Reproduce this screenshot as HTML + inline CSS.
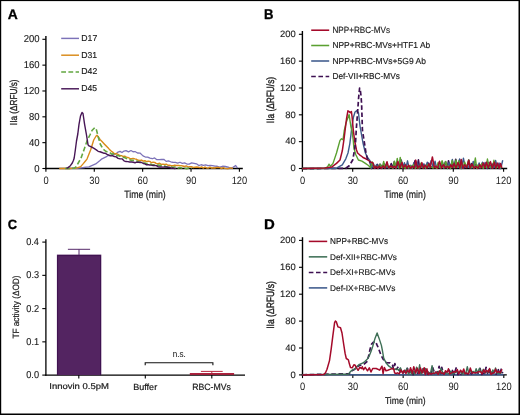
<!DOCTYPE html>
<html><head><meta charset="utf-8"><style>
html,body{margin:0;padding:0;background:#fff;}
body{width:520px;height:415px;overflow:hidden;}
svg{display:block;will-change:transform;}
text{font-family:"Liberation Sans", sans-serif;text-rendering:geometricPrecision;}
</style></head><body>
<svg width="520" height="415" viewBox="0 0 520 415">
<rect x="0" y="0" width="520" height="415" fill="#fff"/>
<text x="7.85" y="18.70" font-size="13.91" font-weight="bold" fill="#000" stroke="#000" stroke-width="0.3" textLength="10.02" lengthAdjust="spacingAndGlyphs">A</text>
<line x1="45.90" y1="36.00" x2="45.90" y2="169.20" stroke="#000" stroke-width="1.4"/>
<line x1="45.20" y1="168.50" x2="242.80" y2="168.50" stroke="#000" stroke-width="1.4"/>
<line x1="42.40" y1="168.50" x2="45.90" y2="168.50" stroke="#000" stroke-width="1.1"/>
<line x1="42.40" y1="142.66" x2="45.90" y2="142.66" stroke="#000" stroke-width="1.1"/>
<line x1="42.40" y1="116.82" x2="45.90" y2="116.82" stroke="#000" stroke-width="1.1"/>
<line x1="42.40" y1="90.98" x2="45.90" y2="90.98" stroke="#000" stroke-width="1.1"/>
<line x1="42.40" y1="65.14" x2="45.90" y2="65.14" stroke="#000" stroke-width="1.1"/>
<line x1="42.40" y1="39.30" x2="45.90" y2="39.30" stroke="#000" stroke-width="1.1"/>
<line x1="45.90" y1="168.50" x2="45.90" y2="171.70" stroke="#000" stroke-width="1.1"/>
<line x1="94.28" y1="168.50" x2="94.28" y2="171.70" stroke="#000" stroke-width="1.1"/>
<line x1="142.65" y1="168.50" x2="142.65" y2="171.70" stroke="#000" stroke-width="1.1"/>
<line x1="191.03" y1="168.50" x2="191.03" y2="171.70" stroke="#000" stroke-width="1.1"/>
<line x1="239.40" y1="168.50" x2="239.40" y2="171.70" stroke="#000" stroke-width="1.1"/>
<text x="34.26" y="171.50" font-size="10.00" font-weight="normal" fill="#1a1a1a" stroke="#1a1a1a" stroke-width="0.12" textLength="5.28" lengthAdjust="spacingAndGlyphs">0</text>
<text x="28.99" y="145.66" font-size="10.00" font-weight="normal" fill="#1a1a1a" stroke="#1a1a1a" stroke-width="0.12" textLength="10.57" lengthAdjust="spacingAndGlyphs">40</text>
<text x="28.99" y="119.82" font-size="10.00" font-weight="normal" fill="#1a1a1a" stroke="#1a1a1a" stroke-width="0.12" textLength="10.57" lengthAdjust="spacingAndGlyphs">80</text>
<text x="23.72" y="93.98" font-size="10.00" font-weight="normal" fill="#1a1a1a" stroke="#1a1a1a" stroke-width="0.12" textLength="15.85" lengthAdjust="spacingAndGlyphs">120</text>
<text x="23.72" y="68.14" font-size="10.00" font-weight="normal" fill="#1a1a1a" stroke="#1a1a1a" stroke-width="0.12" textLength="15.85" lengthAdjust="spacingAndGlyphs">160</text>
<text x="23.72" y="42.30" font-size="10.00" font-weight="normal" fill="#1a1a1a" stroke="#1a1a1a" stroke-width="0.12" textLength="15.85" lengthAdjust="spacingAndGlyphs">200</text>
<text x="43.49" y="183.62" font-size="10.60" font-weight="normal" fill="#1a1a1a" textLength="5.19" lengthAdjust="spacingAndGlyphs">0</text>
<text x="89.27" y="183.62" font-size="10.60" font-weight="normal" fill="#1a1a1a" textLength="10.38" lengthAdjust="spacingAndGlyphs">30</text>
<text x="137.60" y="183.62" font-size="10.60" font-weight="normal" fill="#1a1a1a" textLength="10.38" lengthAdjust="spacingAndGlyphs">60</text>
<text x="186.00" y="183.62" font-size="10.60" font-weight="normal" fill="#1a1a1a" textLength="10.38" lengthAdjust="spacingAndGlyphs">90</text>
<text x="231.65" y="183.62" font-size="10.60" font-weight="normal" fill="#1a1a1a" textLength="15.56" lengthAdjust="spacingAndGlyphs">120</text>
<text transform="translate(17.10,125.14) rotate(-90)" x="0" y="0" font-size="10.07" font-weight="normal" fill="#1a1a1a" stroke="#1a1a1a" stroke-width="0.3" textLength="45.75" lengthAdjust="spacingAndGlyphs">IIa (ΔRFU/s)</text>
<text x="124.23" y="197.90" font-size="10.48" font-weight="normal" fill="#1a1a1a" stroke="#1a1a1a" stroke-width="0.2" textLength="41.45" lengthAdjust="spacingAndGlyphs">Time (min)</text>
<polyline points="65.80,168.40 68.05,168.37 70.30,168.33 72.55,168.30 74.80,168.27 77.05,168.23 79.30,168.20 81.70,167.85 84.10,167.50 86.50,167.15 88.90,166.80 91.17,165.83 93.43,164.87 95.70,163.90 97.85,162.25 100.00,160.60 102.00,158.80 104.00,157.87 106.00,156.93 108.00,155.48 110.00,155.52 112.00,154.61 114.00,154.51 116.00,153.88 118.00,152.10 120.00,151.33 122.00,152.57 124.00,151.02 126.00,150.57 128.50,151.84 131.00,150.54 133.00,151.77 135.00,151.55 137.50,152.98 140.00,153.10 143.00,155.87 145.32,157.04 147.65,157.05 149.98,158.18 152.30,158.74 154.60,157.91 156.90,159.68 159.20,159.72 161.50,159.52 163.80,159.36 166.12,161.37 168.44,160.93 170.76,161.76 173.08,162.42 175.40,162.43 177.70,163.08 180.00,162.26 182.30,163.30 184.60,162.82 186.90,164.04 189.20,164.16 191.63,162.93 194.07,163.34 196.50,163.83 198.80,165.57 201.10,164.75 203.40,165.37 205.70,164.96 208.00,165.61 210.32,165.49 212.64,165.54 214.96,166.13 217.28,166.25 219.60,167.01 222.50,166.26 225.40,166.46 228.20,167.16 231.00,168.28 233.35,167.09 235.70,165.53 237.50,168.20" fill="none" stroke="#7c72b8" stroke-width="1.3" stroke-linejoin="round" stroke-linecap="butt" />
<polyline points="59.20,168.50 60.96,168.49 62.71,168.48 64.47,168.47 66.22,168.46 67.98,168.44 69.73,168.43 71.49,168.42 73.24,168.41 75.00,168.40 78.00,167.60 80.70,166.60 83.50,163.40 85.25,161.25 87.00,159.10 88.90,154.30 90.80,149.50 93.70,140.00 96.10,136.00 97.00,135.20 98.00,136.50 100.00,139.50 102.25,141.75 104.50,144.15 106.50,146.29 108.50,148.35 110.50,150.53 112.60,152.09 114.70,154.11 116.35,153.48 118.00,154.46 119.65,155.48 121.30,155.58 123.00,156.48 124.70,156.14 126.40,157.16 128.10,157.50 129.80,158.45 131.48,158.77 133.16,158.38 134.84,158.90 136.52,159.26 138.20,160.30 139.86,160.46 141.52,160.07 143.18,161.18 144.84,160.73 146.50,161.64 148.14,161.31 149.79,161.42 151.43,162.72 153.07,162.18 154.71,162.44 156.36,163.62 158.00,163.75 159.66,163.29 161.31,164.34 162.97,164.08 164.63,164.48 166.29,164.16 167.94,165.29 169.60,165.23 171.23,165.72 172.86,165.79 174.49,165.23 176.11,165.46 177.74,165.38 179.37,165.52 181.00,165.58 182.75,166.00 184.50,166.50 186.25,165.92 188.00,166.86 189.75,166.59 191.50,166.70 193.25,167.44 195.00,167.18 196.67,167.05 198.33,167.31 200.00,167.65 201.67,166.94 203.33,168.10 205.00,167.03 206.67,167.97 208.33,168.15 210.00,167.22 211.64,168.18 213.29,167.71 214.93,168.00 216.57,167.35 218.21,167.43 219.86,167.63 221.50,168.60 223.14,167.72 224.79,168.43 226.43,168.67 228.07,168.72 229.71,168.04 231.36,168.09 233.00,168.30" fill="none" stroke="#d98a18" stroke-width="1.4" stroke-linejoin="round" stroke-linecap="butt" />
<polyline points="65.00,168.50 66.90,168.44 68.80,168.38 70.70,168.32 72.60,168.26 74.50,168.20 76.50,166.30 78.80,162.00 80.70,159.00 82.40,154.25 84.10,149.50 85.80,144.65 87.50,139.80 89.90,135.00 92.00,130.50 94.80,127.60 96.50,130.00 98.00,136.00 100.20,144.00 103.00,149.00 105.70,151.26 107.70,151.97 109.70,152.54 111.70,154.07 113.53,153.78 115.35,154.85 117.17,155.82 119.00,155.58 120.80,156.69 122.60,157.38 124.40,157.44 126.20,158.41 128.00,159.37 129.80,159.75 131.44,160.39 133.08,160.18 134.72,160.62 136.36,160.85 138.00,161.61 139.70,162.42 141.40,162.49 143.10,163.07 144.80,163.08 146.50,163.85 148.14,163.46 149.79,163.91 151.43,164.55 153.07,164.85 154.71,164.81 156.36,164.73 158.00,165.17 159.71,165.34 161.43,165.64 163.14,166.40 164.86,166.01 166.57,166.93 168.29,167.15 170.00,166.55 171.67,167.01 173.33,167.26 175.00,166.92 176.67,167.46 178.33,168.07 180.00,167.41 181.67,168.03 183.33,167.69 185.00,168.28 186.75,168.67 188.50,168.05 190.25,167.93 192.00,168.50" fill="none" stroke="#62a640" stroke-width="1.6" stroke-linejoin="round" stroke-linecap="butt" stroke-dasharray="4.8,2.4" />
<polyline points="66.50,168.40 68.00,167.60 70.40,165.70 72.30,163.00 73.50,160.30 74.20,158.00 75.40,149.50 76.50,141.00 77.80,134.00 79.00,124.30 80.50,116.00 82.00,112.40 83.00,113.50 84.60,124.30 86.50,135.00 88.00,144.60 88.60,145.60 90.20,146.40 91.80,147.20 94.05,148.44 96.30,149.87 98.15,151.31 100.00,151.76 102.00,152.51 103.70,153.20 105.40,153.32 107.10,154.31 108.80,155.06 110.50,155.85 112.40,155.63 114.30,156.50 116.20,156.87 118.10,158.35 120.00,158.83 122.00,158.85 124.00,160.78 126.00,161.56 127.85,161.63 129.70,162.04 131.55,161.94 133.40,162.22 135.05,162.78 136.70,162.17 138.35,162.28 140.00,162.29 141.62,162.49 143.25,163.46 144.88,163.88 146.50,164.81 148.14,164.67 149.79,165.05 151.43,165.13 153.07,165.57 154.71,165.56 156.36,165.59 158.00,166.70 159.66,166.94 161.31,166.99 162.97,167.08 164.63,166.85 166.29,166.99 167.94,167.30 169.60,167.28 171.20,168.27 172.80,167.98 174.40,168.67 176.00,168.40" fill="none" stroke="#471656" stroke-width="1.4" stroke-linejoin="round" stroke-linecap="butt" />
<line x1="61.2" y1="38.4" x2="79" y2="38.4" stroke="#7c72b8" stroke-width="1.45"/>
<text x="81.31" y="40.90" font-size="8.70" font-weight="normal" fill="#1a1a1a" stroke="#1a1a1a" stroke-width="0.15" textLength="15.92" lengthAdjust="spacingAndGlyphs">D17</text>
<line x1="61.2" y1="55.2" x2="79" y2="55.2" stroke="#d98a18" stroke-width="1.45"/>
<text x="81.31" y="57.60" font-size="8.57" font-weight="normal" fill="#1a1a1a" stroke="#1a1a1a" stroke-width="0.15" textLength="15.88" lengthAdjust="spacingAndGlyphs">D31</text>
<line x1="61.2" y1="72.0" x2="79" y2="72.0" stroke="#62a640" stroke-width="1.45" stroke-dasharray="4.8,2.4"/>
<text x="81.31" y="74.30" font-size="8.57" font-weight="normal" fill="#1a1a1a" stroke="#1a1a1a" stroke-width="0.15" textLength="15.92" lengthAdjust="spacingAndGlyphs">D42</text>
<line x1="61.2" y1="88.80000000000001" x2="79" y2="88.80000000000001" stroke="#471656" stroke-width="1.45"/>
<text x="81.31" y="91.00" font-size="8.70" font-weight="normal" fill="#1a1a1a" stroke="#1a1a1a" stroke-width="0.15" textLength="15.83" lengthAdjust="spacingAndGlyphs">D45</text>
<text x="264.05" y="18.60" font-size="14.06" font-weight="bold" fill="#000" stroke="#000" stroke-width="0.3" textLength="9.47" lengthAdjust="spacingAndGlyphs">B</text>
<line x1="302.40" y1="31.00" x2="302.40" y2="169.20" stroke="#000" stroke-width="1.4"/>
<line x1="301.70" y1="168.50" x2="507.20" y2="168.50" stroke="#000" stroke-width="1.4"/>
<line x1="298.90" y1="168.50" x2="302.40" y2="168.50" stroke="#000" stroke-width="1.1"/>
<line x1="298.90" y1="141.66" x2="302.40" y2="141.66" stroke="#000" stroke-width="1.1"/>
<line x1="298.90" y1="114.82" x2="302.40" y2="114.82" stroke="#000" stroke-width="1.1"/>
<line x1="298.90" y1="87.98" x2="302.40" y2="87.98" stroke="#000" stroke-width="1.1"/>
<line x1="298.90" y1="61.14" x2="302.40" y2="61.14" stroke="#000" stroke-width="1.1"/>
<line x1="298.90" y1="34.30" x2="302.40" y2="34.30" stroke="#000" stroke-width="1.1"/>
<line x1="302.40" y1="168.50" x2="302.40" y2="171.70" stroke="#000" stroke-width="1.1"/>
<line x1="352.70" y1="168.50" x2="352.70" y2="171.70" stroke="#000" stroke-width="1.1"/>
<line x1="403.00" y1="168.50" x2="403.00" y2="171.70" stroke="#000" stroke-width="1.1"/>
<line x1="453.30" y1="168.50" x2="453.30" y2="171.70" stroke="#000" stroke-width="1.1"/>
<line x1="503.60" y1="168.50" x2="503.60" y2="171.70" stroke="#000" stroke-width="1.1"/>
<text x="290.51" y="171.29" font-size="9.40" font-weight="normal" fill="#1a1a1a" stroke="#1a1a1a" stroke-width="0.12" textLength="5.23" lengthAdjust="spacingAndGlyphs">0</text>
<text x="285.30" y="144.45" font-size="9.40" font-weight="normal" fill="#1a1a1a" stroke="#1a1a1a" stroke-width="0.12" textLength="10.46" lengthAdjust="spacingAndGlyphs">40</text>
<text x="285.29" y="117.61" font-size="9.40" font-weight="normal" fill="#1a1a1a" stroke="#1a1a1a" stroke-width="0.12" textLength="10.46" lengthAdjust="spacingAndGlyphs">80</text>
<text x="280.08" y="90.77" font-size="9.40" font-weight="normal" fill="#1a1a1a" stroke="#1a1a1a" stroke-width="0.12" textLength="15.68" lengthAdjust="spacingAndGlyphs">120</text>
<text x="280.08" y="63.93" font-size="9.40" font-weight="normal" fill="#1a1a1a" stroke="#1a1a1a" stroke-width="0.12" textLength="15.68" lengthAdjust="spacingAndGlyphs">160</text>
<text x="280.08" y="37.09" font-size="9.40" font-weight="normal" fill="#1a1a1a" stroke="#1a1a1a" stroke-width="0.12" textLength="15.68" lengthAdjust="spacingAndGlyphs">200</text>
<text x="299.99" y="183.72" font-size="10.60" font-weight="normal" fill="#1a1a1a" textLength="5.19" lengthAdjust="spacingAndGlyphs">0</text>
<text x="347.70" y="183.72" font-size="10.60" font-weight="normal" fill="#1a1a1a" textLength="10.38" lengthAdjust="spacingAndGlyphs">30</text>
<text x="397.95" y="183.72" font-size="10.60" font-weight="normal" fill="#1a1a1a" textLength="10.38" lengthAdjust="spacingAndGlyphs">60</text>
<text x="448.28" y="183.72" font-size="10.60" font-weight="normal" fill="#1a1a1a" textLength="10.38" lengthAdjust="spacingAndGlyphs">90</text>
<text x="495.85" y="183.72" font-size="10.60" font-weight="normal" fill="#1a1a1a" textLength="15.56" lengthAdjust="spacingAndGlyphs">120</text>
<text transform="translate(274.00,123.15) rotate(-90)" x="0" y="0" font-size="10.62" font-weight="normal" fill="#1a1a1a" stroke="#1a1a1a" stroke-width="0.35" textLength="46.26" lengthAdjust="spacingAndGlyphs">IIa (ΔRFU/s)</text>
<text x="384.32" y="197.90" font-size="10.48" font-weight="normal" fill="#1a1a1a" stroke="#1a1a1a" stroke-width="0.2" textLength="41.55" lengthAdjust="spacingAndGlyphs">Time (min)</text>
<polyline points="302.40,168.60 346.50,168.40" fill="none" stroke="#3e1052" stroke-width="1.7" stroke-linejoin="round" stroke-linecap="butt" stroke-dasharray="4.6,2.6" />
<polyline points="370.00,162.30 371.50,168.46 373.28,167.09 375.38,168.21 377.48,164.39 378.78,167.76 380.49,164.60 382.60,167.84 384.49,164.06 386.45,167.88 388.21,166.86 389.62,167.91 391.25,163.47 392.84,167.98 394.30,161.66 395.91,168.28 397.57,164.37 399.64,168.45 401.21,160.10 402.97,168.20 405.09,166.06 406.87,168.24 408.54,166.81 410.40,168.22 411.81,166.46 413.21,167.80 415.10,160.55 416.95,167.65 418.43,159.86 419.73,168.34 421.61,165.56 423.68,168.05 425.41,165.92 427.04,167.70 428.67,163.15 430.03,167.52 431.51,166.85 433.42,167.62 435.43,166.91 437.26,168.24 439.05,166.04 440.66,167.95 442.09,163.66 443.70,168.08 445.46,161.82 447.17,168.38 448.51,160.69 450.22,168.49 452.04,162.46 453.91,167.77 455.72,159.22 457.64,167.67 459.54,159.85 460.85,167.84 462.39,164.00 464.47,167.98 466.15,166.74 467.46,167.53 468.86,160.12 470.30,167.74 471.68,163.48 473.42,167.96 475.07,163.96 477.08,168.32 478.46,164.69 479.90,167.87 482.01,166.86 483.49,168.16 485.31,164.99 487.36,168.32 488.90,162.57 490.76,168.27 492.23,164.03 493.68,167.97 495.37,165.89 496.89,167.54 498.47,167.09 499.96,168.39 501.51,165.81" fill="none" stroke="#3e1052" stroke-width="1.6" stroke-linejoin="round" stroke-linecap="butt" />
<polyline points="302.40,168.50 336.50,168.20 342.30,164.80 345.80,158.80 348.00,153.00 349.80,143.80 350.90,135.10 351.80,127.00 353.50,117.00 355.00,112.00 356.90,110.60 358.50,113.00 360.00,126.00 361.30,133.50 363.00,143.00 365.40,153.00 366.60,155.50 367.70,157.70 370.00,160.60 371.50,168.30 373.36,163.51 374.82,167.55 376.78,164.47 378.26,168.50 379.85,163.91 381.80,168.22 383.27,166.76 385.17,167.45 386.97,166.77 388.67,168.36 390.75,165.42 392.72,168.35 394.79,164.88 396.35,167.92 397.79,166.76 399.26,167.56 400.71,160.34 402.63,167.58 404.40,162.69 406.08,167.51 407.53,160.82 409.15,168.06 410.81,165.32 412.41,168.47 413.77,162.80 415.46,167.91 417.20,162.53 419.00,167.83 420.80,166.36 422.37,167.39 423.94,163.82 425.30,168.42 427.27,162.26 429.13,167.69 431.17,160.45 433.28,167.35 435.06,161.23 436.65,168.20 438.67,166.43 440.63,167.57 442.32,161.68 443.81,168.15 445.44,166.40 447.01,167.42 449.12,162.55 450.61,167.35 452.33,159.36 454.32,167.55 456.34,163.79 458.11,167.48 459.65,159.00 461.57,168.49 463.43,158.22 465.25,167.48 467.03,166.03 469.12,167.41 470.50,166.64 471.80,167.96 473.20,161.38 474.58,167.85 476.13,164.60 477.54,168.28 479.14,162.87 480.45,167.65 482.47,162.28 483.75,167.94 485.08,162.38 486.96,168.20 488.83,165.74 490.44,168.13 492.48,165.84 494.22,167.36 495.58,160.50 497.48,167.34 499.02,162.96 500.77,168.42 502.73,160.25" fill="none" stroke="#3d5a8c" stroke-width="1.4" stroke-linejoin="round" stroke-linecap="butt" />
<polyline points="302.40,168.50 325.00,168.20 327.50,167.00 329.00,164.20 330.50,166.30 333.00,163.40 336.50,153.00 340.00,140.40 341.50,138.70 343.00,139.80 344.20,131.00 346.00,123.00 349.10,114.60 350.90,126.70 352.10,131.00 353.30,141.00 353.80,147.30 355.60,154.20 358.40,160.00 361.90,161.10 365.40,163.40 368.80,165.80 370.50,167.82 372.31,161.88 374.14,167.43 376.19,166.34 377.99,167.90 380.08,164.35 382.16,167.74 383.69,161.50 385.01,167.77 386.91,165.06 388.98,167.83 390.83,166.58 392.94,168.16 394.40,161.09 395.78,168.11 397.26,158.43 398.79,168.03 400.22,157.38 402.13,167.83 403.51,166.48 405.06,168.43 406.57,166.27 408.40,167.95 410.07,165.49 412.02,168.13 413.35,164.69 415.29,168.37 417.31,166.79 418.96,168.12 420.99,162.94 422.69,167.77 423.99,166.66 425.88,167.94 427.52,164.51 429.54,167.35 431.22,166.79 433.18,168.11 434.54,166.34 436.35,168.16 438.15,162.41 440.13,167.98 442.10,160.79 444.01,167.80 445.72,161.55 447.61,168.23 448.96,165.96 450.72,168.26 452.16,160.53 454.22,167.57 455.98,160.05 457.27,167.37 458.89,160.88 460.28,168.45 461.58,162.22 463.05,168.36 464.63,162.05 466.64,167.34 468.56,159.98 470.57,167.76 472.12,166.55 473.68,167.91 475.34,158.00 476.79,168.35 478.15,165.14 480.10,167.85 481.77,163.48 483.07,168.41 484.63,165.47 486.16,167.50 487.45,159.00 488.96,167.63 490.43,166.76 492.53,168.09 493.91,160.31 495.99,168.10 497.96,166.76 499.91,167.88 501.85,165.32" fill="none" stroke="#5aa030" stroke-width="1.4" stroke-linejoin="round" stroke-linecap="butt" />
<polyline points="302.40,168.40 325.00,168.10 331.90,166.90 336.50,163.40 340.00,160.00 342.30,150.80 344.00,139.20 345.20,129.50 346.50,119.00 347.90,110.80 349.20,111.60 350.20,112.60 351.40,111.60 352.10,117.00 353.30,130.00 354.70,141.00 356.50,150.00 357.60,153.00 359.60,154.80 361.90,156.50 363.00,157.50 365.80,158.80 368.00,160.00 370.00,161.70 373.00,163.00 374.50,168.18 376.24,166.25 377.62,168.39 379.18,166.14 381.14,168.37 383.00,166.08 384.96,168.23 387.01,161.70 388.68,167.84 390.80,165.92 392.79,167.63 394.19,166.23 395.78,168.09 397.85,161.40 399.93,167.81 401.95,162.45 403.31,167.67 405.42,164.90 406.75,168.00 408.61,165.27 410.65,168.29 412.36,166.24 414.45,167.91 415.79,160.13 417.55,168.17 419.13,165.87 420.49,167.64 421.89,162.64 423.52,168.18 425.21,165.05 427.09,167.99 428.98,163.81 430.32,167.62 432.37,156.90 434.37,167.68 435.74,166.09 437.58,168.33 439.50,161.30 441.55,168.09 443.59,164.68 445.24,167.83 447.32,166.28 449.37,167.85 450.88,164.81 452.38,167.64 454.04,163.59 455.95,167.93 458.02,162.48 459.90,167.93 461.26,159.54 462.77,168.36 464.63,164.77 466.65,167.65 468.67,160.36 470.03,167.78 472.21,164.07 474.02,168.09 476.06,166.31 477.98,168.33 479.78,164.64 481.45,167.81 483.35,162.95 485.02,167.94 486.42,162.29 488.28,167.76 490.45,161.64 492.33,168.18 494.41,162.19 495.85,167.95 497.46,163.09 499.10,168.38 500.52,163.43 501.88,168.07" fill="none" stroke="#a50a2a" stroke-width="1.5" stroke-linejoin="round" stroke-linecap="butt" />
<polyline points="345.80,168.20 349.20,165.80 352.70,160.00 354.40,150.80 355.60,141.50 356.30,129.00 357.30,116.00 358.00,106.50 358.60,98.00 359.20,92.00 359.60,88.00 360.20,89.50 361.00,95.70 361.60,104.00 362.00,116.00 362.40,130.00 364.20,141.50 366.00,153.00 367.70,160.00 370.00,162.30" fill="none" stroke="#3e1052" stroke-width="1.7" stroke-linejoin="round" stroke-linecap="butt" stroke-dasharray="4.6,2.6" />
<line x1="311.2" y1="30.2" x2="329.2" y2="30.2" stroke="#a50a2a" stroke-width="1.55"/>
<text x="332.45" y="33.30" font-size="9.00" font-weight="normal" fill="#1a1a1a" stroke="#1a1a1a" stroke-width="0.15" textLength="57.53" lengthAdjust="spacingAndGlyphs">NPP+RBC-MVs</text>
<line x1="311.2" y1="45.5" x2="329.2" y2="45.5" stroke="#5aa030" stroke-width="1.55"/>
<text x="332.43" y="48.30" font-size="8.69" font-weight="normal" fill="#1a1a1a" stroke="#1a1a1a" stroke-width="0.15" textLength="97.81" lengthAdjust="spacingAndGlyphs">NPP+RBC-MVs+HTF1 Ab</text>
<line x1="311.2" y1="61.0" x2="329.2" y2="61.0" stroke="#3d5a8c" stroke-width="1.55"/>
<text x="332.42" y="63.60" font-size="8.69" font-weight="normal" fill="#1a1a1a" stroke="#1a1a1a" stroke-width="0.15" textLength="93.52" lengthAdjust="spacingAndGlyphs">NPP+RBC-MVs+5G9 Ab</text>
<line x1="311.2" y1="76.4" x2="329.2" y2="76.4" stroke="#3e1052" stroke-width="1.55" stroke-dasharray="4.6,2.6"/>
<text x="332.44" y="79.00" font-size="8.69" font-weight="normal" fill="#1a1a1a" stroke="#1a1a1a" stroke-width="0.15" textLength="67.35" lengthAdjust="spacingAndGlyphs">Def-VII+RBC-MVs</text>
<text x="7.68" y="228.60" font-size="13.43" font-weight="bold" fill="#000" stroke="#000" stroke-width="0.3" textLength="9.37" lengthAdjust="spacingAndGlyphs">C</text>
<line x1="45.90" y1="239.30" x2="45.90" y2="375.75" stroke="#000" stroke-width="1.3"/>
<line x1="45.25" y1="375.10" x2="245.00" y2="375.10" stroke="#000" stroke-width="1.3"/>
<line x1="42.30" y1="375.10" x2="45.90" y2="375.10" stroke="#000" stroke-width="1.1"/>
<text x="26.23" y="378.00" font-size="10.00" font-weight="normal" fill="#1a1a1a" stroke="#1a1a1a" stroke-width="0.12" textLength="12.79" lengthAdjust="spacingAndGlyphs">0.0</text>
<line x1="42.30" y1="341.85" x2="45.90" y2="341.85" stroke="#000" stroke-width="1.1"/>
<text x="26.33" y="344.75" font-size="10.00" font-weight="normal" fill="#1a1a1a" stroke="#1a1a1a" stroke-width="0.12" textLength="12.79" lengthAdjust="spacingAndGlyphs">0.1</text>
<line x1="42.30" y1="308.60" x2="45.90" y2="308.60" stroke="#000" stroke-width="1.1"/>
<text x="26.37" y="311.50" font-size="10.00" font-weight="normal" fill="#1a1a1a" stroke="#1a1a1a" stroke-width="0.12" textLength="12.79" lengthAdjust="spacingAndGlyphs">0.2</text>
<line x1="42.30" y1="275.35" x2="45.90" y2="275.35" stroke="#000" stroke-width="1.1"/>
<text x="26.28" y="278.25" font-size="10.00" font-weight="normal" fill="#1a1a1a" stroke="#1a1a1a" stroke-width="0.12" textLength="12.79" lengthAdjust="spacingAndGlyphs">0.3</text>
<line x1="42.30" y1="242.10" x2="45.90" y2="242.10" stroke="#000" stroke-width="1.1"/>
<text x="26.19" y="245.00" font-size="10.00" font-weight="normal" fill="#1a1a1a" stroke="#1a1a1a" stroke-width="0.12" textLength="12.79" lengthAdjust="spacingAndGlyphs">0.4</text>
<line x1="78.80" y1="375.10" x2="78.80" y2="378.50" stroke="#000" stroke-width="1.1"/>
<line x1="145.30" y1="375.10" x2="145.30" y2="378.50" stroke="#000" stroke-width="1.1"/>
<line x1="211.80" y1="375.10" x2="211.80" y2="378.50" stroke="#000" stroke-width="1.1"/>
<rect x="56.9" y="254.6" width="44.4" height="120.50" fill="#532461"/>
<polyline points="57.6,375.10 57.6,255.6 100.5,255.6 100.5,375.10" fill="none" stroke="#3e1250" stroke-width="1.0"/>
<line x1="79.00" y1="249.30" x2="79.00" y2="255.20" stroke="#55286a" stroke-width="1.0"/>
<line x1="67.90" y1="249.30" x2="90.10" y2="249.30" stroke="#55286a" stroke-width="1.0"/>
<rect x="189.8" y="373.1" width="44.3" height="1.7" fill="#a50a2a"/>
<line x1="211.80" y1="371.40" x2="211.80" y2="373.20" stroke="#b8283f" stroke-width="1.0"/>
<line x1="200.90" y1="371.40" x2="222.70" y2="371.40" stroke="#b8283f" stroke-width="1.0"/>
<polyline points="145.2,365.2 145.2,362.8 212.9,362.8 212.9,365.2" fill="none" stroke="#111" stroke-width="1.1"/>
<text x="172.77" y="357.30" font-size="9.26" font-weight="normal" fill="#1a1a1a" stroke="#1a1a1a" stroke-width="0.05" textLength="13.07" lengthAdjust="spacingAndGlyphs">n.s.</text>
<text x="49.25" y="389.30" font-size="8.41" font-weight="normal" fill="#1a1a1a" stroke="#1a1a1a" stroke-width="0.2" textLength="59.63" lengthAdjust="spacingAndGlyphs">Innovin 0.5pM</text>
<text x="133.18" y="389.50" font-size="8.83" font-weight="normal" fill="#1a1a1a" stroke="#1a1a1a" stroke-width="0.2" textLength="24.01" lengthAdjust="spacingAndGlyphs">Buffer</text>
<text x="192.20" y="389.50" font-size="9.14" font-weight="normal" fill="#1a1a1a" stroke="#1a1a1a" stroke-width="0.2" textLength="38.80" lengthAdjust="spacingAndGlyphs">RBC-MVs</text>
<text transform="translate(19.10,338.56) rotate(-90)" x="0" y="0" font-size="9.10" font-weight="normal" fill="#1a1a1a" stroke="#1a1a1a" stroke-width="0.2" textLength="63.08" lengthAdjust="spacingAndGlyphs">TF activity (ΔOD)</text>
<text x="263.93" y="228.60" font-size="14.06" font-weight="bold" fill="#000" stroke="#000" stroke-width="0.3" textLength="10.80" lengthAdjust="spacingAndGlyphs">D</text>
<line x1="302.50" y1="237.20" x2="302.50" y2="375.60" stroke="#000" stroke-width="1.4"/>
<line x1="301.80" y1="374.90" x2="506.80" y2="374.90" stroke="#000" stroke-width="1.4"/>
<line x1="299.00" y1="374.90" x2="302.50" y2="374.90" stroke="#000" stroke-width="1.1"/>
<line x1="299.00" y1="348.00" x2="302.50" y2="348.00" stroke="#000" stroke-width="1.1"/>
<line x1="299.00" y1="321.10" x2="302.50" y2="321.10" stroke="#000" stroke-width="1.1"/>
<line x1="299.00" y1="294.20" x2="302.50" y2="294.20" stroke="#000" stroke-width="1.1"/>
<line x1="299.00" y1="267.30" x2="302.50" y2="267.30" stroke="#000" stroke-width="1.1"/>
<line x1="299.00" y1="240.40" x2="302.50" y2="240.40" stroke="#000" stroke-width="1.1"/>
<line x1="302.50" y1="374.90" x2="302.50" y2="378.10" stroke="#000" stroke-width="1.1"/>
<line x1="352.82" y1="374.90" x2="352.82" y2="378.10" stroke="#000" stroke-width="1.1"/>
<line x1="403.15" y1="374.90" x2="403.15" y2="378.10" stroke="#000" stroke-width="1.1"/>
<line x1="453.48" y1="374.90" x2="453.48" y2="378.10" stroke="#000" stroke-width="1.1"/>
<line x1="503.80" y1="374.90" x2="503.80" y2="378.10" stroke="#000" stroke-width="1.1"/>
<text x="290.51" y="377.69" font-size="9.40" font-weight="normal" fill="#1a1a1a" stroke="#1a1a1a" stroke-width="0.12" textLength="5.23" lengthAdjust="spacingAndGlyphs">0</text>
<text x="285.30" y="350.79" font-size="9.40" font-weight="normal" fill="#1a1a1a" stroke="#1a1a1a" stroke-width="0.12" textLength="10.46" lengthAdjust="spacingAndGlyphs">40</text>
<text x="285.29" y="323.89" font-size="9.40" font-weight="normal" fill="#1a1a1a" stroke="#1a1a1a" stroke-width="0.12" textLength="10.46" lengthAdjust="spacingAndGlyphs">80</text>
<text x="280.08" y="296.99" font-size="9.40" font-weight="normal" fill="#1a1a1a" stroke="#1a1a1a" stroke-width="0.12" textLength="15.68" lengthAdjust="spacingAndGlyphs">120</text>
<text x="280.08" y="270.09" font-size="9.40" font-weight="normal" fill="#1a1a1a" stroke="#1a1a1a" stroke-width="0.12" textLength="15.68" lengthAdjust="spacingAndGlyphs">160</text>
<text x="280.08" y="243.19" font-size="9.40" font-weight="normal" fill="#1a1a1a" stroke="#1a1a1a" stroke-width="0.12" textLength="15.68" lengthAdjust="spacingAndGlyphs">200</text>
<text x="300.09" y="389.92" font-size="10.60" font-weight="normal" fill="#1a1a1a" textLength="5.19" lengthAdjust="spacingAndGlyphs">0</text>
<text x="347.82" y="389.92" font-size="10.60" font-weight="normal" fill="#1a1a1a" textLength="10.38" lengthAdjust="spacingAndGlyphs">30</text>
<text x="398.10" y="389.92" font-size="10.60" font-weight="normal" fill="#1a1a1a" textLength="10.38" lengthAdjust="spacingAndGlyphs">60</text>
<text x="448.45" y="389.92" font-size="10.60" font-weight="normal" fill="#1a1a1a" textLength="10.38" lengthAdjust="spacingAndGlyphs">90</text>
<text x="496.05" y="389.92" font-size="10.60" font-weight="normal" fill="#1a1a1a" textLength="15.56" lengthAdjust="spacingAndGlyphs">120</text>
<text transform="translate(274.30,328.87) rotate(-90)" x="0" y="0" font-size="10.62" font-weight="normal" fill="#1a1a1a" stroke="#1a1a1a" stroke-width="0.35" textLength="47.70" lengthAdjust="spacingAndGlyphs">IIa (ΔRFU/s)</text>
<text x="384.93" y="403.80" font-size="9.93" font-weight="normal" fill="#1a1a1a" stroke="#1a1a1a" stroke-width="0.2" textLength="40.73" lengthAdjust="spacingAndGlyphs">Time (min)</text>
<polyline points="302.50,374.70 503.50,374.70" fill="none" stroke="#3d5a8c" stroke-width="1.4" stroke-linejoin="round" stroke-linecap="butt" />
<polyline points="302.50,374.80 349.30,373.70 351.00,371.20 354.80,369.20 356.90,366.80 359.40,365.40 363.50,364.80 367.00,361.60 368.70,355.80 370.00,349.50 371.60,344.20 373.50,342.20 375.60,341.60 377.10,345.20 378.50,348.30 380.80,354.60 383.10,359.20 386.60,362.70 390.00,362.90 392.40,365.00 393.50,368.91 394.85,363.59 396.47,369.37 398.35,366.65 400.35,371.90 401.66,370.75 403.40,372.96 404.73,370.45 405.98,372.35 407.37,368.27 409.31,372.72 411.29,370.21 413.12,374.65 414.72,371.93 416.32,373.72 417.82,372.95 419.27,373.00 420.49,372.96 421.76,374.13 423.52,367.43 424.74,373.77 426.23,372.19 427.74,374.01 429.49,371.10 430.96,373.75 432.66,367.58 434.60,373.06 435.83,372.22 437.39,373.16 439.16,366.27 440.38,373.58 441.74,367.32 443.54,373.83 445.12,372.95 447.10,372.78 448.88,369.97 450.88,372.91 452.32,370.45 454.23,374.14 456.13,367.98 457.92,374.61 459.39,372.74 461.07,374.34 462.69,371.82 464.45,374.21 466.35,373.17 467.84,374.07 469.74,372.03 471.49,373.90 473.34,372.17 474.79,373.95 476.14,372.32 478.12,373.23 479.93,368.29 481.80,374.44 483.14,373.06 484.70,373.35 486.07,367.28 487.37,373.42 488.74,369.12 490.18,373.24 491.92,371.06 493.26,372.87 494.73,370.88 496.13,374.10 498.03,368.55 499.57,374.69 501.19,369.22 502.71,373.37" fill="none" stroke="#3e1052" stroke-width="1.7" stroke-linejoin="round" stroke-linecap="butt" stroke-dasharray="4.6,2.6" />
<polyline points="302.50,374.60 345.00,374.30 348.40,374.40 350.10,372.00 351.80,370.30 354.80,369.00 356.90,366.50 359.40,364.40 362.50,363.10 364.60,361.80 367.00,359.50 369.30,355.80 371.00,351.50 372.70,346.50 375.00,338.40 377.10,332.90 379.10,338.40 381.40,345.40 382.60,351.50 383.70,358.10 386.00,362.70 388.90,366.20 392.40,368.50 394.70,369.70 396.00,369.00 397.46,368.97 398.75,370.57 400.40,367.84 402.10,371.63 403.98,371.74 405.32,372.08 406.93,368.24 408.39,374.43 410.21,370.90 411.56,374.44 412.92,370.73 414.69,374.45 416.56,367.27 418.35,372.90 419.63,364.76 421.26,374.39 422.81,369.09 424.11,372.73 425.36,368.53 427.16,372.71 428.78,372.57 430.57,373.06 432.08,365.61 433.31,373.88 435.30,372.90 437.23,373.22 438.47,371.30 439.75,374.00 441.02,368.53 442.96,373.10 444.62,373.03 446.43,373.09 447.65,373.10 449.59,374.37 451.10,371.27 452.41,374.08 454.23,372.98 455.45,372.68 456.83,371.11 458.82,373.18 460.50,371.19 462.37,374.39 464.07,372.25 465.63,374.22 467.31,366.68 468.58,372.84 470.19,369.87 471.52,372.70 473.03,371.37 474.78,373.06 476.14,368.66 477.54,372.87 479.44,368.40 481.37,373.05 483.34,369.27 484.93,373.10 486.75,370.96 488.27,372.86 489.77,369.34 491.54,373.98 492.80,369.90 494.29,373.04 495.53,367.93 497.18,373.25 498.42,373.09 500.09,373.32 501.95,372.36" fill="none" stroke="#3e6f56" stroke-width="1.4" stroke-linejoin="round" stroke-linecap="butt" />
<polyline points="302.50,374.90 323.60,374.60 325.50,372.70 327.00,369.20 329.50,360.60 331.20,348.80 332.90,335.30 334.60,322.60 335.40,321.00 336.30,321.80 338.00,326.90 340.50,327.70 342.00,333.00 343.80,345.00 345.10,353.40 346.30,358.50 348.40,359.80 349.30,363.60 350.50,367.40 352.20,367.80 353.90,364.80 355.20,365.30 356.50,367.80 358.10,370.30 359.80,367.40 361.50,368.50 362.30,366.80 363.50,369.70 365.20,367.40 367.50,370.80 369.30,367.90 371.00,372.00 372.70,368.50 376.20,368.50 379.70,370.20 382.00,366.20 383.10,373.70 384.30,367.40 386.00,370.80 387.80,370.20 390.70,369.10 393.60,368.50 394.70,373.10 396.20,373.49 397.52,372.82 399.27,373.95 400.73,369.93 402.62,373.23 404.11,370.46 405.97,373.58 407.43,369.94 409.11,372.15 410.53,367.70 412.29,373.29 413.77,366.79 415.70,373.10 417.22,368.13 419.14,373.63 420.47,367.94 422.24,372.91 424.17,367.73 425.36,374.63 426.89,368.84 428.38,374.44 429.78,373.20 431.35,374.10 433.13,373.14 434.49,373.49 436.24,372.06 438.12,374.31 439.95,370.55 441.58,373.48 442.82,372.93 444.12,374.26 445.45,370.82 447.23,372.16 448.48,368.81 449.70,373.84 451.31,373.15 452.79,372.23 454.26,371.74 455.49,372.06 457.37,369.64 458.88,373.77 460.55,370.16 462.39,372.54 463.72,368.92 465.07,373.81 466.82,373.09 468.73,373.93 470.28,368.07 472.05,373.10 473.94,372.52 475.42,372.73 477.05,372.41 478.68,371.74 480.36,371.59 482.21,373.66 483.89,369.85 485.21,372.70 486.50,370.26 488.24,372.10 489.58,368.48 491.05,374.36 492.63,373.20 494.31,372.46 495.60,369.13 496.93,372.45 498.66,371.42 500.30,372.80 502.06,369.26" fill="none" stroke="#a50a2a" stroke-width="1.5" stroke-linejoin="round" stroke-linecap="butt" />
<line x1="308.8" y1="241.4" x2="327.2" y2="241.4" stroke="#a50a2a" stroke-width="1.55"/>
<text x="330.05" y="244.40" font-size="8.71" font-weight="normal" fill="#1a1a1a" stroke="#1a1a1a" stroke-width="0.15" textLength="57.94" lengthAdjust="spacingAndGlyphs">NPP+RBC-MVs</text>
<line x1="308.8" y1="256.85" x2="327.2" y2="256.85" stroke="#3e6f56" stroke-width="1.55"/>
<text x="330.04" y="259.80" font-size="8.41" font-weight="normal" fill="#1a1a1a" stroke="#1a1a1a" stroke-width="0.15" textLength="66.95" lengthAdjust="spacingAndGlyphs">Def-XII+RBC-MVs</text>
<line x1="308.8" y1="272.4" x2="327.2" y2="272.4" stroke="#3e1052" stroke-width="1.55" stroke-dasharray="4.6,2.6"/>
<text x="330.04" y="275.40" font-size="8.41" font-weight="normal" fill="#1a1a1a" stroke="#1a1a1a" stroke-width="0.15" textLength="65.34" lengthAdjust="spacingAndGlyphs">Def-XI+RBC-MVs</text>
<line x1="308.8" y1="287.9" x2="327.2" y2="287.9" stroke="#3d5a8c" stroke-width="1.55"/>
<text x="330.04" y="290.80" font-size="8.41" font-weight="normal" fill="#1a1a1a" stroke="#1a1a1a" stroke-width="0.15" textLength="65.34" lengthAdjust="spacingAndGlyphs">Def-IX+RBC-MVs</text>
<rect x="0" y="0" width="520" height="1.1" fill="#000"/><rect x="0" y="0" width="1.2" height="415" fill="#000"/><rect x="518.5" y="0" width="1.5" height="415" fill="#000"/><rect x="0" y="413.5" width="520" height="1.5" fill="#000"/>
</svg>
</body></html>
